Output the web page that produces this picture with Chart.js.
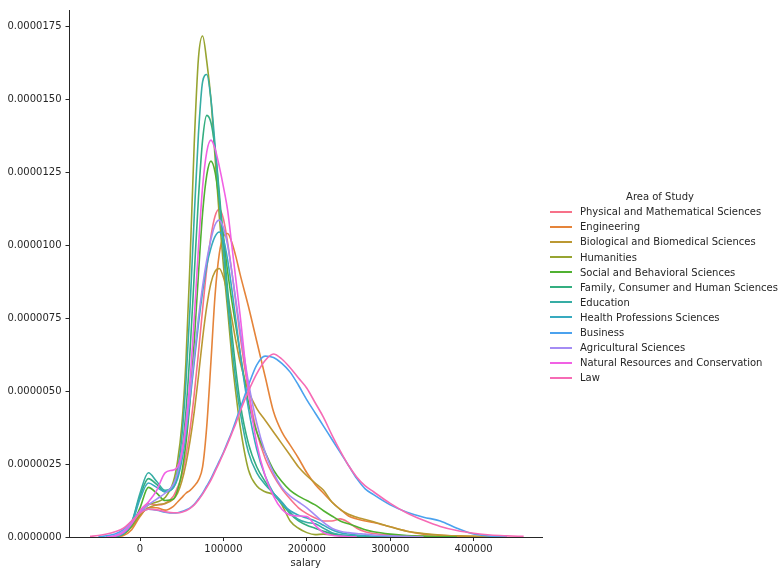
<!DOCTYPE html>
<html>
<head>
<meta charset="utf-8">
<script src="https://cdn.jsdelivr.net/npm/chart.js@4/dist/chart.umd.min.js"></script>
<style>
  html, body { margin: 0; padding: 0; background: #ffffff; }
  #wrap { position: relative; width: 783px; height: 569px; }
  #c { position: absolute; left: 0; top: 0; }
  .lg { position: absolute; font-family: "DejaVu Sans", sans-serif; font-size: 10px; color: #262626; white-space: nowrap; }
  .lgline { position: absolute; height: 2px; width: 22px; }
</style>
</head>
<body>
<div id="wrap">
  <canvas id="c" width="783" height="569"></canvas>
  <div id="legend"></div>
</div>
<script>
// Salary grid (x values of the density curves)
const salary = [-60000,-50000,-40000,-30000,-20000,-10000,0,10000,20000,30000,40000,45000,50000,55000,60000,65000,70000,75000,80000,85000,90000,95000,100000,105000,110000,115000,120000,130000,140000,150000,160000,170000,180000,190000,200000,210000,220000,230000,240000,250000,260000,270000,280000,300000,320000,340000,360000,380000,400000,420000,440000,460000];

// Category names (legend order)
const categories = ["Physical and Mathematical Sciences","Engineering","Biological and Biomedical Sciences","Humanities","Social and Behavioral Sciences","Family, Consumer and Human Sciences","Education","Health Professions Sciences","Business","Agricultural Sciences","Natural Resources and Conservation","Law"];

// Density values, in units of 1e-6
const physical = [null,null,0,0.02,0.1,0.4,0.9,1.15,1.1,1.15,1.4,1.7,2.1,2.8,3.7,4.9,6.3,7.8,9.2,10.3,11.0,11.24,10.9,10.1,9.1,8.0,6.9,5.0,3.6,2.7,2.1,1.65,1.3,1.0,0.8,0.65,0.55,0.55,0.62,0.5,0.3,0.18,0.12,0.07,0.04,0.02,0.01,0,null,null,null,null];
const engineering = [null,null,null,0.01,0.05,0.25,0.7,1.0,1.0,0.92,1.05,1.2,1.35,1.5,1.6,1.75,1.95,2.4,3.8,6.0,8.3,9.7,10.3,10.4,10.1,9.6,9.0,7.9,6.7,5.5,4.3,3.6,3.15,2.7,2.2,1.8,1.5,1.2,0.95,0.72,0.62,0.55,0.5,0.35,0.2,0.1,0.06,0.03,0.02,0.01,null,null];
const biological = [null,null,0,0.02,0.1,0.35,0.75,1.0,1.1,1.15,1.3,1.5,1.9,2.5,3.3,4.3,5.5,6.8,7.9,8.7,9.1,9.2,8.9,8.3,7.5,6.7,6.0,5.0,4.4,4.0,3.6,3.2,2.8,2.4,2.1,1.85,1.6,1.2,0.95,0.78,0.68,0.6,0.52,0.35,0.2,0.12,0.07,0.04,0.02,0.01,null,null];
const humanities = [null,null,null,0.02,0.1,0.35,0.8,1.1,1.2,1.35,1.9,2.6,3.8,6.0,9.5,13.5,16.4,17.17,16.3,15.0,13.0,11.0,9.3,7.8,6.2,4.9,3.8,2.3,1.75,1.55,1.45,1.1,0.55,0.3,0.15,0.08,0.1,0.08,0.04,0.02,0.01,0,null,null,null,null,null,null,null,null,null,null];
const social = [null,null,0,0.02,0.1,0.4,1.0,1.7,1.5,1.25,1.3,1.6,2.2,3.2,4.7,6.7,9.0,11.1,12.4,12.88,12.5,11.5,10.3,9.1,8.1,7.2,6.3,4.6,3.6,2.9,2.3,1.9,1.6,1.4,1.25,1.1,0.9,0.72,0.55,0.45,0.35,0.25,0.18,0.1,0.05,0.03,0.01,0,null,null,null,null];
const family = [null,null,0,0.02,0.12,0.5,1.4,2.0,1.8,1.55,1.7,2.1,2.9,4.3,6.4,9.0,11.6,13.6,14.45,14.2,13.3,11.8,10.1,8.5,7.0,5.7,4.6,3.2,2.4,1.9,1.5,1.15,0.8,0.55,0.4,0.3,0.2,0.12,0.07,0.04,0.02,0.01,0,null,null,null,null,null,null,null,null,null];
const education = [null,null,0,0.02,0.12,0.5,1.5,2.2,1.9,1.6,1.8,2.3,3.4,5.3,7.9,11.0,13.8,15.6,15.85,15.0,13.4,11.6,9.8,8.1,6.6,5.3,4.3,2.9,2.2,1.8,1.5,1.2,0.85,0.6,0.5,0.45,0.3,0.15,0.08,0.05,0.02,0,null,null,null,null,null,null,null,null,null,null];
const health = [null,null,0,0.02,0.12,0.45,1.3,1.85,1.7,1.55,1.7,2.0,2.6,3.5,4.7,6.0,7.3,8.4,9.3,9.9,10.3,10.45,10.2,9.5,8.5,7.4,6.3,4.4,3.0,2.1,1.5,1.15,0.9,0.75,0.65,0.55,0.4,0.25,0.15,0.1,0.07,0.05,0.03,0.01,0,null,null,null,null,null,null,null];
const business = [null,0.01,0.04,0.1,0.25,0.55,0.85,0.95,0.92,0.85,0.82,0.83,0.87,0.93,1.0,1.12,1.3,1.5,1.75,2.0,2.3,2.6,2.9,3.25,3.6,4.0,4.4,5.2,5.9,6.2,6.15,5.95,5.65,5.2,4.7,4.25,3.8,3.35,2.9,2.45,2.0,1.65,1.45,1.1,0.85,0.68,0.55,0.3,0.1,0.03,0.01,null];
const agricultural = [null,null,0,0.05,0.2,0.5,0.85,1.1,1.3,1.5,1.8,2.2,2.8,3.7,4.9,6.2,7.5,8.6,9.5,10.2,10.7,10.86,10.6,10.0,9.1,8.1,7.1,5.3,3.9,2.9,2.2,1.7,1.4,1.2,1.0,0.75,0.5,0.3,0.2,0.15,0.12,0.1,0.07,0.04,0.02,0,null,null,null,null,null,null];
const natural = [null,null,0,0.03,0.15,0.45,0.9,1.2,1.6,2.2,2.3,2.4,2.9,3.9,5.4,7.5,9.9,12.0,13.2,13.6,13.3,12.7,12.0,11.2,10.0,8.8,7.6,5.0,3.2,2.1,1.4,0.95,0.75,0.72,0.7,0.4,0.15,0.06,0.03,0.01,0,null,null,null,null,null,null,null,null,null,null,null];
const law = [0.02,0.05,0.1,0.18,0.3,0.55,0.82,0.95,0.93,0.87,0.83,0.83,0.85,0.9,0.98,1.1,1.27,1.47,1.7,1.95,2.25,2.55,2.87,3.2,3.55,3.9,4.3,5.0,5.6,6.05,6.27,6.1,5.8,5.45,5.1,4.6,4.1,3.5,2.95,2.45,2.05,1.75,1.55,1.15,0.82,0.57,0.36,0.22,0.13,0.07,0.04,0.02];

// Tick values
const xTicks = [0,100000,200000,300000,400000];
const yTicks = [0,2.5,5,7.5,10,12.5,15,17.5];

const seriesList = [physical,engineering,biological,humanities,social,family,education,health,business,agricultural,natural,law];
const colors = ['#f77189','#e5843a','#bb9832','#97a431','#50b131','#34ae80','#36ada4','#38aabf','#4ba2ee','#a48cf4','#f161e4','#f66bb5'];

const datasets = categories.map((name, i) => ({
  label: name,
  data: salary.map((x, j) => ({ x: x, y: seriesList[i][j] })),
  borderColor: colors[i],
  backgroundColor: colors[i],
  borderWidth: 1.6,
  pointRadius: 0,
  fill: false,
  cubicInterpolationMode: 'monotone',
  order: categories.length - i
}));

const font = { family: 'DejaVu Sans', size: 10 };
const ink = '#262626';

new Chart(document.getElementById('c'), {
  type: 'line',
  data: { datasets: datasets },
  options: {
    animation: false,
    responsive: false,
    devicePixelRatio: 1,
    layout: { padding: { left: 0, top: 7, right: 241, bottom: 0 } },
    plugins: { legend: { display: false }, tooltip: { enabled: false } },
    scales: {
      x: {
        type: 'linear',
        min: -84600,
        max: 482000,
        afterBuildTicks: s => { s.ticks = xTicks.map(v => ({ value: v })); },
        afterFit: s => { s.height = 32; },
        ticks: { callback: v => String(v), color: ink, font: font, padding: 2, maxRotation: 0, autoSkip: false },
        grid: { drawOnChartArea: false, drawTicks: true, tickLength: 4, color: ink, tickWidth: 1 },
        border: { display: true, color: ink, width: 1 },
        title: { display: true, text: 'salary', color: ink, font: font, padding: { top: 0, bottom: 0 } }
      },
      y: {
        type: 'linear',
        min: 0,
        max: 18.06,
        afterBuildTicks: s => { s.ticks = yTicks.map(v => ({ value: v })); },
        afterFit: s => { s.width = 69.5; },
        ticks: { callback: v => (v * 1e-6).toFixed(7), color: ink, font: font, padding: 4, autoSkip: false },
        grid: { drawOnChartArea: false, drawTicks: true, tickLength: 4, color: ink, tickWidth: 1 },
        border: { display: true, color: ink, width: 1 }
      }
    }
  }
});

// Legend (HTML)
const lg = document.getElementById('legend');
const title = document.createElement('div');
title.className = 'lg';
title.textContent = 'Area of Study';
title.style.left = '560px';
title.style.width = '200px';
title.style.textAlign = 'center';
title.style.top = '189px';
title.style.lineHeight = '15px';
lg.appendChild(title);
categories.forEach((name, i) => {
  const yc = 211.7 + i * 15.1;
  const ln = document.createElement('div');
  ln.className = 'lgline';
  ln.style.left = '550px';
  ln.style.top = (yc - 1) + 'px';
  ln.style.background = colors[i];
  lg.appendChild(ln);
  const t = document.createElement('div');
  t.className = 'lg';
  t.textContent = name;
  t.style.left = '580px';
  t.style.top = (yc - 7.5) + 'px';
  t.style.lineHeight = '15px';
  lg.appendChild(t);
});
</script>
</body>
</html>
